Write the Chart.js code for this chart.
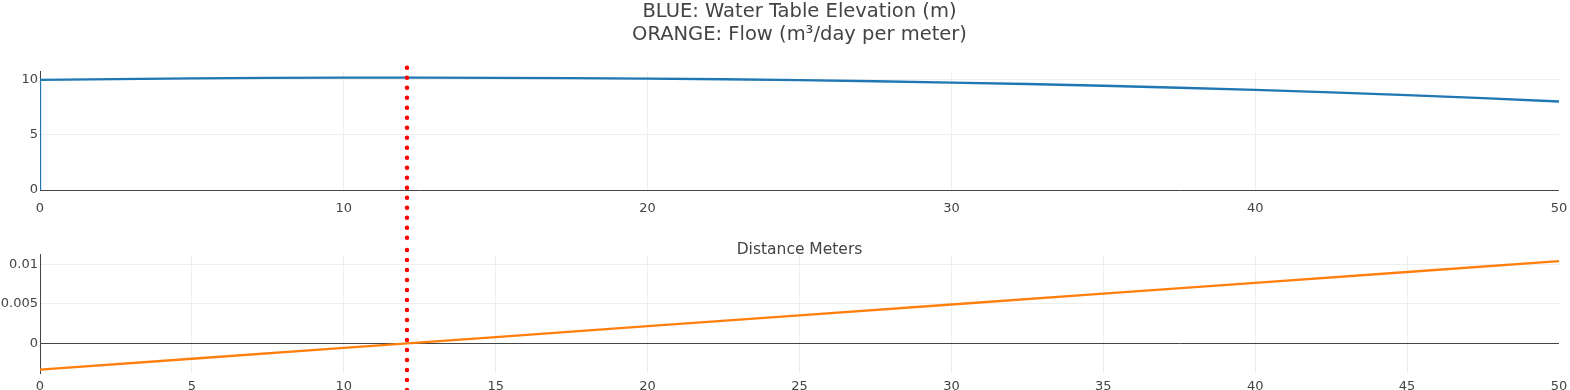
<!DOCTYPE html>
<html>
<head>
<meta charset="utf-8">
<script src="https://cdn.jsdelivr.net/npm/chart.js@4.4.0/dist/chart.umd.min.js"></script>
<style>
    html, body { margin: 0; padding: 0; background: #fff; }
    #wrap { position: relative; width: 1570px; height: 390px; overflow: hidden; }
    .box { position: absolute; left: 0; width: 1570px; }
    #bottomBox { top: 245px; height: 145px; }
    #topBox { top: 0; height: 260px; }
</style>
</head>
<body>
<div id="wrap">
    <div class="box" id="bottomBox"><canvas id="flow" width="1570" height="145"></canvas></div>
    <div class="box" id="topBox"><canvas id="elevation" width="1570" height="260"></canvas></div>
</div>
<script>
// water table elevation (m) along the section
const distance = [0, 0, 2.5, 5, 7.5, 10, 12.5, 15, 17.5, 20, 22.5, 25, 27.5, 30, 32.5, 35, 37.5, 40, 42.5, 45, 47.5, 50];
const elevation = [0, 10.00, 10.07, 10.13, 10.17, 10.19, 10.19, 10.18, 10.15, 10.11, 10.05, 9.97, 9.87, 9.75, 9.62, 9.46, 9.28, 9.08, 8.86, 8.61, 8.34, 8.03];

// flow (m3/day per meter)
const flowDistance = [0, 5, 10, 15, 20, 25, 30, 35, 40, 45, 50];
const flow = [-0.00330, -0.00193, -0.00056, 0.00081, 0.00218, 0.00355, 0.00492, 0.00629, 0.00766, 0.00903, 0.01040];

// groundwater divide (red dotted line)
const divideX = 12.08;
const divideTop = [11.1, -4.8];
const divideBottom = [0.0118, -0.0062];

const topTicksX = [0, 10, 20, 30, 40, 50];
const topTicksY = [0, 5, 10];
const bottomTicksX = [0, 5, 10, 15, 20, 25, 30, 35, 40, 45, 50];
const bottomTicksY = [0, 0.005, 0.01];
const bottomTickLabelsY = ['0', '0.005', '0.01'];

const titleLines = ['BLUE: Water Table Elevation (m)', 'ORANGE: Flow (m³/day per meter)'];
const xTitle = 'Distance Meters';

Chart.defaults.font.family = "'DejaVu Sans', Verdana, sans-serif";
Chart.defaults.font.size = 13;
Chart.defaults.color = '#444';

const setTicks = list => scale => { scale.ticks = list.map(v => ({ value: v })); };
const gridX = ctx => (ctx.tick && ctx.tick.value === 50) ? 'rgba(0,0,0,0)' : '#eee';
const gridY = ctx => (ctx.tick && ctx.tick.value === 0) ? '#444' : '#eee';

// x axis height fixed, no extra side padding for edge labels
const fitX = h => s => { s.height = h; s.paddingLeft = 0; s.paddingRight = 0; };

const dividerSet = ys => ({
    data: ys.map(y => ({ x: divideX, y: y })),
    borderColor: 'red',
    borderWidth: 4.5,
    borderDash: [0, 10],
    borderCapStyle: 'round',
    pointRadius: 0,
    clip: false
});

let elevation_chart = new Chart(document.getElementById('elevation'), {
    type: 'line',
    data: {
        datasets: [
            dividerSet(divideTop),
            {
                label: 'Water Table Elevation',
                data: distance.map((d, i) => ({ x: d, y: elevation[i] })),
                borderColor: '#1f77b4',
                borderWidth: 2.3,
                pointRadius: 0,
                tension: 0,
                fill: false
            }
        ]
    },
    options: {
        responsive: false,
        animation: false,
        events: [],
        layout: { padding: { left: 0, right: 11, top: 0, bottom: 1 } },
        plugins: {
            legend: { display: false },
            tooltip: { enabled: false },
            title: {
                display: true,
                fullSize: false,
                text: titleLines,
                color: '#444',
                font: { size: 19.5, weight: 'normal', lineHeight: '23px' },
                padding: { top: 0, bottom: 25 }
            }
        },
        scales: {
            x: {
                type: 'linear', min: 0, max: 50,
                afterBuildTicks: setTicks(topTicksX),
                afterFit: fitX(69),
                ticks: { padding: 11, maxRotation: 0 },
                grid: { color: gridX, drawTicks: false },
                border: { display: false },
                title: { display: true, text: xTitle, font: { size: 15.5 }, color: '#444', padding: { top: 0, bottom: 0 } }
            },
            y: {
                type: 'linear', min: 0, max: 10.8,
                afterBuildTicks: setTicks(topTicksY),
                afterFit: s => { s.width = 40; },
                ticks: { padding: 2 },
                grid: { color: gridY, drawTicks: false },
                border: { display: true, color: '#444', width: 1 }
            }
        }
    }
});

let flow_chart = new Chart(document.getElementById('flow'), {
    type: 'line',
    data: {
        datasets: [
            dividerSet(divideBottom),
            {
                label: 'Flow',
                data: flowDistance.map((d, i) => ({ x: d, y: flow[i] })),
                borderColor: '#ff7f0e',
                borderWidth: 2.3,
                pointRadius: 0,
                tension: 0,
                fill: false
            }
        ]
    },
    options: {
        responsive: false,
        animation: false,
        events: [],
        layout: { padding: { left: 0, right: 11, top: 5, bottom: 0 } },
        plugins: {
            legend: { display: false },
            tooltip: { enabled: false }
        },
        scales: {
            x: {
                type: 'linear', min: 0, max: 50,
                afterBuildTicks: setTicks(bottomTicksX),
                afterFit: fitX(17),
                ticks: { padding: 6, maxRotation: 0 },
                grid: { color: gridX, drawTicks: false },
                border: { display: false }
            },
            y: {
                type: 'linear', min: -0.00373, max: 0.0112,
                afterBuildTicks: setTicks(bottomTicksY),
                afterFit: s => { s.width = 40; },
                ticks: {
                    padding: 2,
                    callback: v => bottomTickLabelsY[bottomTicksY.indexOf(v)]
                },
                grid: { color: gridY, drawTicks: false },
                border: { display: true, color: '#444', width: 1 }
            }
        }
    }
});
</script>
</body>
</html>
